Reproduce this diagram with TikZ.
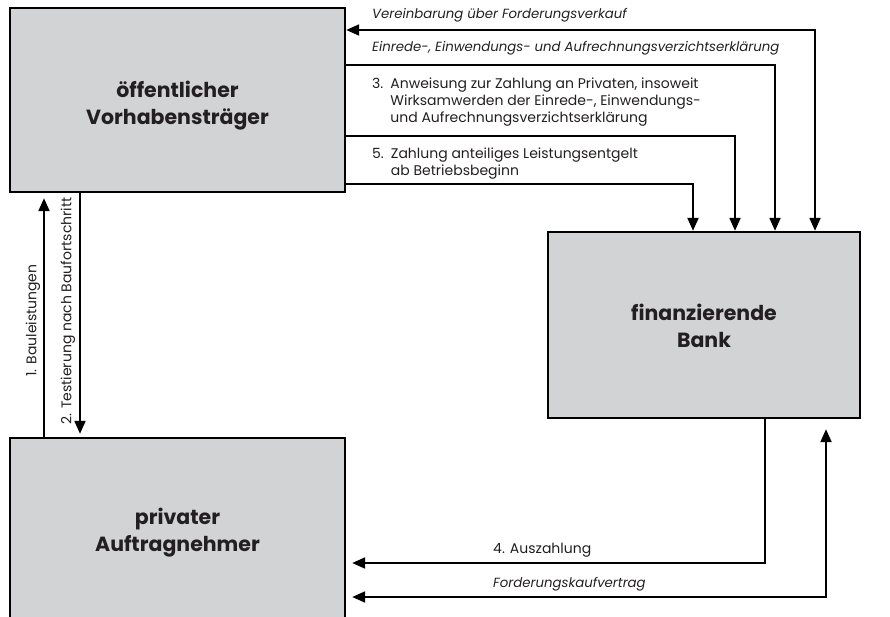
\documentclass[tikz,border=0pt]{standalone}
\usepackage{fontspec}
\setmainfont{Poppins}
\usetikzlibrary{arrows.meta}
\definecolor{boxgray}{HTML}{D1D3D4}
\definecolor{ink}{HTML}{231F20}
\newcommand{\titletext}[2][5pt]{\raisebox{-#1}[\height][\depth]{\begin{tabular}{@{}c@{}}#2\end{tabular}}}
\begin{document}
\begin{tikzpicture}[x=1pt,y=-1pt,
  actor/.style={draw=black, line width=2.4pt, fill=boxgray, minimum width=335pt, minimum height=184pt, inner sep=0pt,
     font=\fontsize{20.5}{27}\selectfont\bfseries, align=center, text=ink},
  tip/.tip={Triangle[length=13pt,width=11pt]},
  conn/.style={line width=2.1pt, -tip},
  conn2/.style={line width=2.1pt, tip-tip},
  lbl/.style={font=\fontsize{14}{17}\selectfont, inner sep=0pt, anchor=west, align=left, text=ink},
  ilbl/.style={lbl, font=\fontsize{13.3}{17}\selectfont\itshape}]
\clip (0,0) rectangle (890,617);
\useasboundingbox (0,0) rectangle (890,617);
\node[actor] (pub) at (177.5,100) {\titletext[6pt]{öffentlicher\\Vorhabensträger}};
\node[actor, minimum width=312pt, minimum height=186pt] (bank) at (704,325) {\titletext[3.5pt]{finanzierende\\Bank}};
\node[actor] (priv) at (177.5,530) {\titletext[3pt]{privater\\Auftragnehmer}};
% top connectors
\coordinate (c1) at (815,30);
\coordinate (c2) at (775,65);
\coordinate (c3) at (735,136);
\coordinate (c4) at (693,184);
\draw[conn2] (pub.east |- c1) -- (c1) -- (c1 |- bank.north);
\draw[conn] (pub.east |- c2) -- (c2) -- (c2 |- bank.north);
\draw[conn] (pub.east |- c3) -- (c3) -- (c3 |- bank.north);
\draw[conn] (pub.east |- c4) -- (c4) -- (c4 |- bank.north);
\node[ilbl] (t1) at (372,15) {Vereinbarung über Forderungsverkauf};
\node[ilbl] (t2) at (372,48) {Einrede-, Einwendungs- und Aufrechnungsverzichtserklärung};
\node[lbl] (t3) at (372,102) {3.\hspace{0.5em}Anweisung zur Zahlung an Privaten, insoweit\\\phantom{3.}\hspace{0.5em}Wirksamwerden der Einrede-, Einwendungs-\\\phantom{3.}\hspace{0.5em}und Aufrechnungsverzichtserklärung};
\node[lbl] (t5) at (372,163.5) {5.\hspace{0.5em}Zahlung anteiliges Leistungsentgelt\\\phantom{5.}\hspace{0.5em}ab Betriebsbeginn};
% left verticals
\coordinate (l1) at (44,300);
\coordinate (l2) at (80,300);
\draw[conn, shorten >=5pt] (l1 |- priv.north) -- (l1 |- pub.south);
\draw[conn, shorten >=3pt] (l2 |- pub.south) -- (l2 |- priv.north);
\node[lbl, rotate=90] (t6) at (33,377) {1. Bauleistungen};
\node[lbl, rotate=90] (t7) at (68,425) {2. Testierung nach Baufortschritt};
% bottom connectors
\coordinate (b1) at (765,563);
\coordinate (b2) at (826,597);
\draw[conn, shorten >=6pt] (b1 |- bank.south) -- (b1) -- (priv.east |- b1);
\draw[conn2, shorten >=10pt, shorten <=6pt] (priv.east |- b2) -- (b2) -- (b2 |- bank.south);
\node[lbl] (t8) at (493,550) {4. Auszahlung};
\node[ilbl] (t9) at (493,584) {Forderungskaufvertrag};
\end{tikzpicture}
\end{document}
